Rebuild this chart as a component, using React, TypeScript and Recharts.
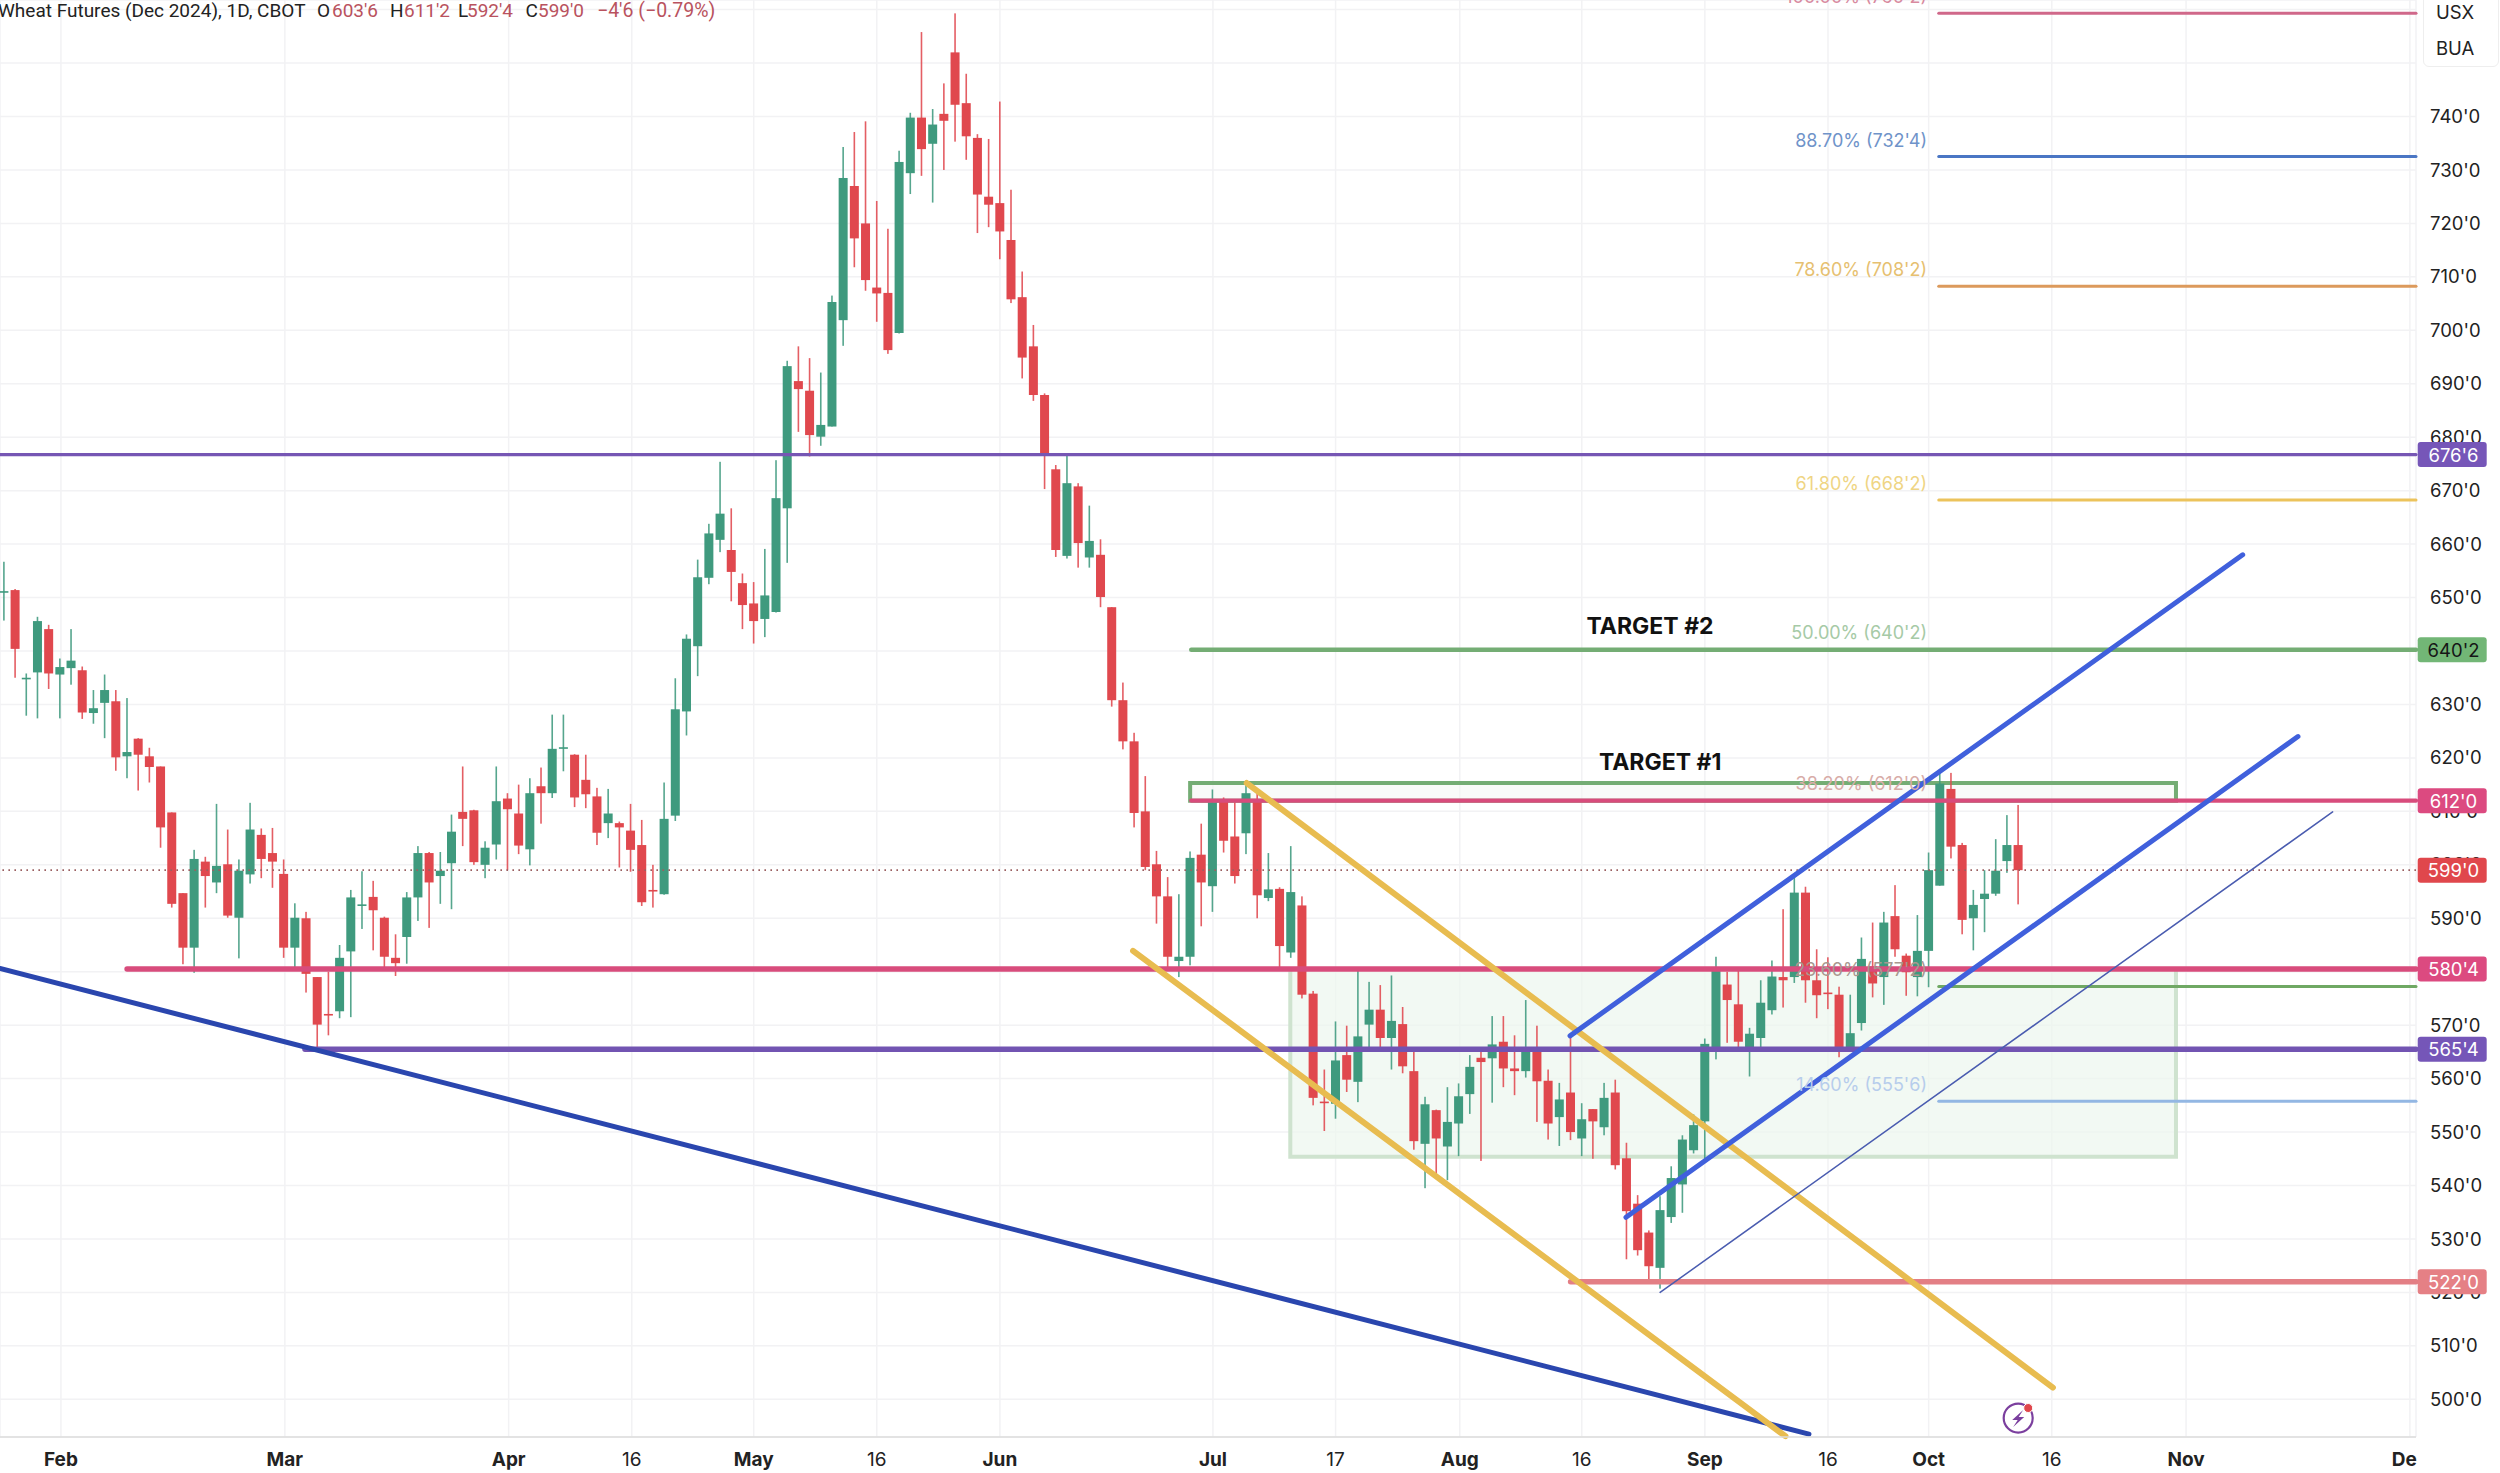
import React from 'react';
import { ComposedChart, Bar, XAxis, YAxis, CartesianGrid, ReferenceLine, ReferenceArea, ReferenceDot } from 'recharts';

const opens = [651.1,651.4,634.9,636,644.1,635.6,636.8,636.4,628.4,630.3,630.6,620.3,623.6,620.3,618.4,609.8,594.7,584.5,600.6,596.7,600.1,590.1,598.2,605.6,602.2,598.3,584.5,590,579,572.1,572.6,583.8,592.5,594,590.1,582.6,586.5,593.9,602.2,597.9,600.3,609.9,610.2,600,603.8,612.4,609.6,602.9,614.7,613.4,621.9,620.6,615.9,612.8,607.8,607.8,606.4,603.7,595.3,594.5,609.2,628.7,640.9,653.7,660.8,658.9,652.7,648.9,646,647.3,666.7,690.5,688.7,680.1,682,701.9,727,720,708,707,699.5,729.4,739.8,734.9,740.5,752,742.5,736,725,723.8,716.9,706.2,697,687.9,674,657.8,670.8,657.5,658,648.2,630.8,623.1,610,600.1,594.1,582,582.8,601.9,596,611.9,605.3,605.9,611.9,593.8,595.5,583.6,592.4,575.9,555.7,555.3,564.4,559.4,570.1,572.9,567.6,570.2,561.4,547.8,554.1,547.3,551.6,557.1,563.9,563.8,566.9,561.9,561.4,565.9,559.6,552.8,557.4,548.8,554.3,550.9,557.4,545.1,536.6,531.2,524.6,534.1,540.2,546.6,552,565,577.6,573.9,565.9,567.6,572.8,579,579,594.8,578.4,576.1,575.7,565.5,570.4,581,579,590.4,583,579,583.9,596.1,614.2,603.7,590,593.6,594.6,600.7,603.7];
const highs = [656.7,651.6,635.8,646.4,644.9,638.6,644.1,637.1,632.7,635.6,632.7,631.2,623.7,621.9,618.4,609.8,594.7,602.8,601.5,611.4,606.6,601,611.6,606.8,606.9,601,592.8,591.2,579,580,585,595.3,598.8,597,590.3,587,594.9,603.5,602.4,602.4,609.4,618.4,610.3,604.4,618.4,613.4,615,616.2,618.2,628.1,628.1,620.7,620.6,614.4,614.2,608.1,611.4,608.4,600,615.4,634.9,643.1,657.1,663.8,675.4,666.7,654.5,652.9,659.1,675.7,694.3,697,694.8,692.1,706.5,734.3,737.1,739.1,724.2,719,733.6,740.7,755.8,741.4,746.2,759.3,748,736.7,735.8,742.8,726.3,711,701,688.2,674.8,676.7,671.4,667.2,660.9,648.2,634.1,624.7,616.6,602.6,597.7,594.5,602.5,607.7,614.1,612.6,611.7,615.1,613.6,602.2,595.8,603.5,594.1,576.4,561.7,570.7,569.9,580.6,578.1,577.5,579.3,573.4,565,556.6,554.2,558.4,559.1,564.4,565,571.7,571.7,568.1,574.7,569.9,561.7,559.2,568,555.4,554.3,559.2,559.8,548,538.2,531.6,538,543.6,549.4,553.3,567.5,582.8,580,580.3,569.5,578.4,582.1,591.7,597.8,595.9,584.2,582.7,577.2,575.7,586.4,589.2,591.2,596.2,583.4,590.6,602.3,617.1,617.2,604.1,595.3,599,604.8,609.3,611.2];
const lows = [645.7,635,627.9,627.4,632.9,627.4,633.7,627.3,626.4,623.7,617.6,616.2,613.9,615.4,603.2,592,581.4,579.8,592,594.7,590.1,582.5,596.5,597.5,595.7,582.6,580.6,576.1,565.9,568.1,571.3,571.5,588,584,580.6,579.2,581.5,589.5,588.2,592.7,591.7,603.5,600,597.5,601,599,602,599.9,607.7,612.5,617.5,610.8,610.6,603.7,605,599.5,598.7,592.3,592,594.4,608.2,624.2,635.3,652.5,658.5,649.3,644.1,641.4,642.6,647.2,656.5,681,676.4,678.4,682,697.1,711.8,707.4,701.6,695.6,699.4,725.5,728.9,723.9,730,735.3,731.9,718.2,719.3,713.3,705.1,691,686.8,670.3,657.6,657.3,655.6,655.6,648.2,629.6,621.6,607,599,589,580.5,579,581.2,588.5,591.2,602.3,596.5,602,590,593.2,580.5,582.6,575,555,550.2,552.5,557.5,555.6,565.9,565.3,561.7,561,546.7,539.5,541.6,541,545.5,553.4,544.6,555.5,558.4,556.9,560.2,551.9,548.6,547.4,548.5,545.5,545,549.4,543,526.2,526.9,522,520.7,533,534.9,546,544.7,563.6,566.7,565.9,560.4,565.9,572,573.3,577.9,574.2,571.3,573,564,565.5,569,575.2,573.8,582.8,575.5,575.4,577.1,596.1,601.2,587,584,587.4,594.2,598.5,592.6];
const closes = [651.2,640.4,635,645.6,635.8,637,638.2,628.5,629.3,632.7,620.1,621.1,620.6,618.3,607,592.7,584.5,601.1,597.9,599.8,590.5,598.9,606.6,601.1,600.6,584.5,590.1,579.6,570.1,572,582.6,593.9,592.6,591.5,582.8,581.6,593.9,602.2,596.7,598.9,606.2,608.6,600.5,603.2,611.9,610.4,603.6,613.4,613.4,621.7,622,612.6,613.2,606,609.6,607,602.8,593,595.2,608.6,629.1,642.3,653.8,662,665.7,654.8,648.6,645.6,650.4,668.6,693.3,689,680.4,682.3,705.3,728.5,717.2,709.4,706.9,696.3,731.5,739.8,733.9,738.5,739.2,742.2,736.3,725.4,723.5,718.5,705.8,694.9,687.9,676.9,658.9,671.4,660.2,660.6,650.1,630.8,623.1,609.7,599.6,594.1,582.8,582.8,601.3,596.7,611.7,604.5,597.9,613.4,594.3,595.4,584.8,594.9,575.7,556.4,555.6,563.4,559.8,567.9,572.9,567.6,570.8,562.3,548.3,555.2,548.8,551.9,556.7,562.2,563.1,566.4,561.9,561.4,565.7,559.5,551.6,556.1,550,552.4,552,556.4,543.8,535.2,527.9,524.9,535.4,541.4,548.6,551.3,566.5,580.6,574.7,566.9,568.4,574.2,579.1,578.4,594.8,578.4,575.6,576,565.5,568.5,582.4,577.8,589.2,584.2,579.9,583.9,599,615.2,603.4,589.7,592.5,594.6,598.9,603.7,599];

const axisTicksX = [5.09, 25.1, 45.1, 56.1, 67, 78, 89, 108.04, 119, 130.1, 141, 152, 163, 172, 183, 195, 215];
const axisLabelsX = ['Feb', 'Mar', 'Apr', '16', 'May', '16', 'Jun', 'Jul', '17', 'Aug', '16', 'Sep', '16', 'Oct', '16', 'Nov', 'Dec'];
const priceTicks = [500,510,520,530,540,550,560,570,580,590,600,610,620,630,640,650,660,670,680,690,700,710,720,730,740,750,760];

const X_MIN = -0.357;
const X_MAX = 215.55;
const Y_MIN = 492.95;
const Y_MAX = 761.8;
const FIB_START = 172.9;
const FONT = 'Inter, "Noto Sans", sans-serif';

const table = opens.map((open, i) => ({
  i,
  open,
  high: highs[i],
  low: lows[i],
  close: closes[i],
  range: [lows[i], highs[i]],
}));

const UP = '#3f9a7e';
const DOWN = '#e0484e';

function Candle(props: any) {
  const { x, y, width, height, payload } = props;
  const span = payload.high - payload.low;
  const k = span > 0 ? height / span : 0;
  const top = y + (payload.high - Math.max(payload.open, payload.close)) * k;
  const bodyH = Math.max(Math.abs(payload.open - payload.close) * k, 1.6);
  const up = payload.close >= payload.open;
  const c = up ? UP : DOWN;
  const mid = x + width / 2;
  return (
    <g>
      <rect x={mid - 0.8} y={y} width={1.6} height={height} fill={c} opacity={0.88} />
      <rect x={x} y={top} width={width} height={bodyH} fill={c} />
    </g>
  );
}

type Seg = { from: [number, number]; to: [number, number]; color: string; width: number };
const trendLines: Seg[] = [
  { from: [-0.357, 580.6], to: [161.3, 493.5], color: '#2a46ae', width: 5 },
  { from: [111.06, 615.3], to: [183.1, 502.2], color: '#e8bc50', width: 6 },
  { from: [100.9, 583.9], to: [159.2, 493.1], color: '#e8bc50', width: 6 },
  { from: [139.95, 568], to: [200.06, 658], color: '#4060dc', width: 5 },
  { from: [144.95, 534.05], to: [205, 624], color: '#4060dc', width: 5 },
  { from: [148, 520], to: [208.1, 609.9], color: '#4a5cb0', width: 1.5 },
];

const levelLines: Seg[] = [
  { from: [-0.357, 676.75], to: [X_MAX, 676.75], color: '#7656b4', width: 3.2 },
  { from: [11, 580.5], to: [X_MAX, 580.5], color: '#d84c7c', width: 5.5 },
  { from: [26.9, 565.5], to: [X_MAX, 565.5], color: '#7254b2', width: 5.5 },
  { from: [106.1, 612], to: [X_MAX, 612], color: '#d84c7c', width: 4.2 },
  { from: [106.1, 640.25], to: [X_MAX, 640.25], color: '#74ad74', width: 4.5 },
  { from: [140, 522], to: [X_MAX, 522], color: '#e37f85', width: 5.5 },
  { from: [FIB_START, 759.3], to: [X_MAX, 759.3], color: '#d0688a', width: 3 },
  { from: [FIB_START, 732.5], to: [X_MAX, 732.5], color: '#4a76c4', width: 3 },
  { from: [FIB_START, 708.25], to: [X_MAX, 708.25], color: '#dc9a5c', width: 3 },
  { from: [FIB_START, 668.25], to: [X_MAX, 668.25], color: '#ecc35c', width: 3 },
  { from: [FIB_START, 577.25], to: [X_MAX, 577.25], color: '#6fa863', width: 3 },
  { from: [FIB_START, 555.75], to: [X_MAX, 555.75], color: '#93b7e3', width: 3 },
];

const fibLabels: [string, number, string][] = [
  ["100.00% (760'2)", 762.4, '#d88aa0'],
  ["88.70% (732'4)", 735.6, '#6f93c9'],
  ["78.60% (708'2)", 711.4, '#e6c070'],
  ["61.80% (668'2)", 671.4, '#efd584'],
  ["50.00% (640'2)", 643.4, '#a6caa6'],
  ["38.20% (612'0)", 615.2, '#d8aca8'],
  ["23.60% (577'2)", 580.4, '#a89890'],
  ["14.60% (555'6)", 558.9, '#b7cdec'],
];

const targets: [string, number, number][] = [
  ['TARGET #2', 147.1, 644.6],
  ['TARGET #1', 148, 619.2],
];

const priceTags: [string, number, string, string][] = [
  ["676'6", 676.75, '#7656b8', '#ffffff'],
  ["640'2", 640.25, '#72b676', '#161616'],
  ["612'0", 612, '#dc4a80', '#ffffff'],
  ["599'0", 599, '#e0474c', '#ffffff'],
  ["580'4", 580.5, '#dc4a80', '#ffffff'],
  ["565'4", 565.5, '#7556b8', '#ffffff'],
  ["522'0", 522, '#e58085', '#ffffff'],
];

const headerBlack = "Wheat Futures (Dec 2024), 1D, CBOT";
const headerOHLC: [string, number, string, number][] = [
  ['O', 317, "603'6", 332],
  ['H', 390, "611'2", 404],
  ['L', 458, "592'4", 467],
  ['C', 525.5, "599'0", 538],
];
const headerChange = "\u22124'6 (\u22120.79%)";

function XTick(props: any) {
  const { x, payload } = props;
  const idx = axisTicksX.indexOf(payload.value);
  const label = axisLabelsX[idx];
  const bold = !/^\d/.test(label);
  return (
    <text x={x} y={1459} textAnchor="middle" dominantBaseline="central" fontFamily={FONT} fontSize={19} fontWeight={bold ? 700 : 400} fill="#222">
      {label}
    </text>
  );
}

const tagShape = (text: string, bg: string, fg: string) => (p: any) => (
  <g>
    <rect x={p.cx + 1.7} y={p.cy - 12.5} width={69} height={25} rx={3} fill={bg} />
    <text x={p.cx + 37.5} y={p.cy} textAnchor="middle" dominantBaseline="central" fontFamily={FONT} fontSize={18.5} fill={fg}>{text}</text>
  </g>
);

const fibShape = (text: string, color: string) => (p: any) => (
  <text x={p.cx} y={p.cy} textAnchor="end" dominantBaseline="central" fontFamily={FONT} fontSize={18} fill={color}>{text}</text>
);

const targetShape = (text: string) => (p: any) => (
  <text x={p.cx} y={p.cy} textAnchor="middle" dominantBaseline="central" fontFamily={FONT} fontSize={23} fontWeight={700} fill="#111">{text}</text>
);

const boltShape = (p: any) => (
  <g>
    <circle cx={p.cx} cy={p.cy} r={14.5} fill="none" stroke="#7b3f9e" strokeWidth={2.2} />
    <path d={`M${p.cx + 5},${p.cy - 8} L${p.cx - 6},${p.cy + 2} L${p.cx - 0.5},${p.cy + 2} L${p.cx - 5},${p.cy + 9} L${p.cx + 6},${p.cy - 1} L${p.cx + 0.5},${p.cy - 1} Z`} fill="#7b3f9e" />
    <circle cx={p.cx + 10} cy={p.cy - 10} r={4.5} fill="#e0474c" stroke="#fff" strokeWidth={1} />
  </g>
);

function renderSeg(s: Seg, key: string) {
  return (
    <ReferenceLine
      key={key}
      segment={[{ x: s.from[0], y: s.from[1] }, { x: s.to[0], y: s.to[1] }]}
      stroke={s.color}
      strokeWidth={s.width}
      strokeLinecap="round"
      ifOverflow="visible"
    />
  );
}

export default function App() {
  return (
    <div style={{ position: 'absolute', left: 0, top: 0, width: 2500, height: 1473, background: '#fff', overflow: 'hidden' }}>
      <ComposedChart width={2500} height={1473} data={table} margin={{ top: 0, right: 0, bottom: 0, left: 0 }}>
        <CartesianGrid stroke="#f2f2f4" strokeWidth={1.5} />
        <XAxis
          dataKey="i"
          type="number"
          domain={[X_MIN, X_MAX]}
          allowDataOverflow
          ticks={axisTicksX}
          interval={0}
          height={36}
          tickLine={false}
          tickSize={0}
          axisLine={{ stroke: '#dcdcdc', strokeWidth: 1.5 }}
          tick={<XTick />}
        />
        <YAxis
          orientation="right"
          type="number"
          domain={[Y_MIN, Y_MAX]}
          allowDataOverflow
          ticks={priceTicks}
          interval={0}
          width={84}
          tickLine={false}
          tickSize={0}
          tickMargin={14}
          axisLine={false}
          tickFormatter={(v: number) => (v >= 750 ? '' : `${v}'0`)}
          tick={{ fontFamily: FONT, fontSize: 18.5, fill: '#222' }}
        />
        <ReferenceArea x1={114.95} x2={194.1} y1={545.4} y2={580.5} fill="#edf7ee" fillOpacity={0.7} stroke="#cfe3cf" strokeWidth={4} ifOverflow="visible" />
        <ReferenceArea x1={106} x2={194.1} y1={612} y2={615.3} fill="#f3f8f3" stroke="#74ad74" strokeWidth={4} ifOverflow="visible" />
        <ReferenceLine y={599} stroke="#9a5f60" strokeWidth={1.6} strokeDasharray="1.6 4.4" />
        <Bar dataKey="range" barSize={9} shape={<Candle />} isAnimationActive={false} />
        {fibLabels.map(([t, p, c]) => (
          <ReferenceDot key={t} x={171.85} y={p} r={0} ifOverflow="visible" shape={fibShape(t, c)} />
        ))}
        {levelLines.map((s, i) => renderSeg(s, `lvl${i}`))}
        {trendLines.map((s, i) => renderSeg(s, `tr${i}`))}
        {targets.map(([t, x, y]) => (
          <ReferenceDot key={t} x={x} y={y} r={0} ifOverflow="visible" shape={targetShape(t)} />
        ))}
        <ReferenceDot x={180} y={496.5} r={0} ifOverflow="visible" shape={boltShape} />
      </ComposedChart>
      <div style={{ position: 'absolute', left: 2417, top: 1438, width: 83, height: 35, background: '#fff' }} />
      <div style={{ position: 'absolute', left: 0, top: 0, width: 2500, height: 1473 }}>
        <ComposedChart width={2500} height={1473} data={table} margin={{ top: 0, right: 84, bottom: 36, left: 0 }}>
          <XAxis dataKey="i" type="number" domain={[X_MIN, X_MAX]} allowDataOverflow hide />
          <YAxis type="number" domain={[Y_MIN, Y_MAX]} allowDataOverflow hide />
          {priceTags.map(([t, p, bg, fg]) => (
            <ReferenceDot key={t} x={X_MAX} y={p} r={0} ifOverflow="visible" shape={tagShape(t, bg, fg)} />
          ))}
        </ComposedChart>
      </div>
      <div style={{ position: 'absolute', left: 2423, top: -6, width: 74, height: 71, background: '#fff', border: '1px solid #eeeeee', borderRadius: 6, fontFamily: FONT, fontSize: 18.5, color: '#222' }}>
        <div style={{ position: 'absolute', left: 12, top: 6 }}>USX</div>
        <div style={{ position: 'absolute', left: 12, top: 42 }}>BUA</div>
      </div>
      <div style={{ position: 'absolute', left: -2, top: 0, width: 800, height: 24, fontFamily: 'Roboto, sans-serif', fontSize: 19, color: '#222', whiteSpace: 'pre', lineHeight: '22px' }}>
        <span style={{ position: 'absolute', left: 0, top: 0 }}>{headerBlack}</span>
        {headerOHLC.map(([k, kx, v, vx]) => (
          <React.Fragment key={k}>
            <span style={{ position: 'absolute', left: kx + 2, top: 0 }}>{k}</span>
            <span style={{ position: 'absolute', left: vx + 2, top: 0, color: '#b9525e' }}>{v}</span>
          </React.Fragment>
        ))}
        <span style={{ position: 'absolute', left: 599, top: 0, color: '#b9525e', fontSize: 19.5 }}>{headerChange}</span>
      </div>
    </div>
  );
}
